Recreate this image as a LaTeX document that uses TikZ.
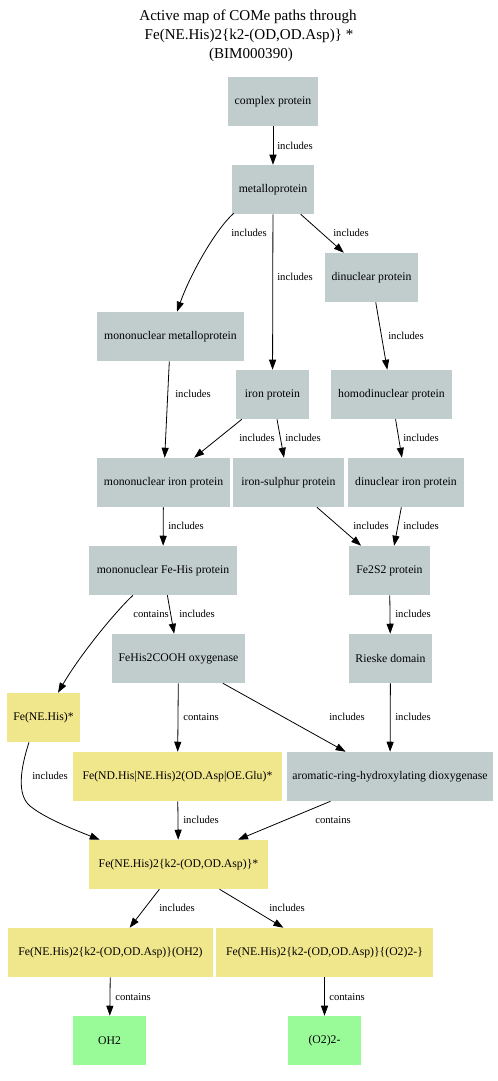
\documentclass[tikz,border=0pt]{standalone}
\usepackage{fontspec}
\setmainfont{Liberation Serif}
\usetikzlibrary{arrows.meta,calc}

\definecolor{protgray}{HTML}{C1CDCD}
\definecolor{sitekhaki}{HTML}{F0E68C}
\definecolor{ligandgreen}{HTML}{98FB98}

\tikzset{
  box/.style={rectangle, draw=none, inner sep=0pt, minimum height=36.75pt,
              font=\fontsize{8.8}{10}\selectfont, text=black},
  bw/.style={minimum width=#1*0.75pt},
  pbox/.style={box, fill=protgray},
  mbox/.style={box, fill=sitekhaki},
  lbox/.style={box, fill=ligandgreen},
  conn/.style={draw=black, line width=0.6pt, -{Triangle[length=7.5pt,width=5.3pt]}},
  lbl/.style={font=\fontsize{8}{9}\selectfont, inner sep=0pt, anchor=west},
  ttl/.style={font=\fontsize{11.3}{13}\selectfont, inner sep=0pt},
}

\begin{document}
\begin{tikzpicture}[x=0.75pt, y=-0.75pt]
\useasboundingbox (0,0) rectangle (497,1081);

% title
\node[ttl] (t1) at (248,17) {Active map of COMe paths through};
\node[ttl] (t2) at (249,36) {Fe(NE.His)2\{k2-(OD,OD.Asp)\} *};
\node[ttl] (t3) at (251,55) {(BIM000390)};

% protein classes
\node[pbox, bw=90]  (cp)  at (273,101.5)   {complex protein};
\node[pbox, bw=82]  (mp)  at (273,189.5)   {metalloprotein};
\node[pbox, bw=93]  (dp)  at (371.5,277.5) {dinuclear protein};
\node[pbox, bw=147] (mm)  at (170.5,336.5) {mononuclear metalloprotein};
\node[pbox, bw=73]  (ip)  at (272.5,394.5) {iron protein};
\node[pbox, bw=121] (hp)  at (391.5,394.5) {homodinuclear protein};
\node[pbox, bw=133] (mi)  at (163.5,482.5) {mononuclear iron protein};
\node[pbox, bw=111] (is)  at (288.5,482.5) {iron-sulphur protein};
\node[pbox, bw=116] (di)  at (406,482.5)   {dinuclear iron protein};
\node[pbox, bw=148] (mf)  at (163,570.5)   {mononuclear Fe-His protein};
\node[pbox, bw=81]  (fs)  at (389.5,570.5) {Fe2S2 protein};
\node[pbox, bw=133] (fo)  at (178.5,658.5) {FeHis2COOH oxygenase};
\node[pbox, bw=83]  (rd)  at (390.5,658.5) {Rieske domain};
\node[pbox, bw=206] (ar)  at (390,776.5)   {aromatic-ring-hydroxylating dioxygenase};

% metal sites
\node[mbox, bw=73]  (fne) at (43.5,717.5)  {Fe(NE.His)*};
\node[mbox, bw=209] (fnd) at (177.5,776.5) {Fe(ND.His|NE.His)2(OD.Asp|OE.Glu)*};
\node[mbox, bw=179] (k2)  at (178.5,864.5) {Fe(NE.His)2\{k2-(OD,OD.Asp)\}*};
\node[mbox, bw=205] (oc)  at (110.5,952.5) {Fe(NE.His)2\{k2-(OD,OD.Asp)\}(OH2)};
\node[mbox, bw=217] (pc)  at (324.5,952.5) {Fe(NE.His)2\{k2-(OD,OD.Asp)\}\{(O2)2-\}};

% ligands
\node[lbox, bw=73]  (oh)  at (109.5,1040.5) {OH2};
\node[lbox, bw=73]  (po)  at (324.5,1040.5) {(O2)2-};

% connectors
\draw[conn] (cp) -- (mp);
\draw[conn] ($(mp.south west)+(2,-1)$) .. controls (215,230) and (190,275) .. ($(mm.north)+(6.5,0)$);
\draw[conn] (mp) -- (ip);
\draw[conn] (mp) -- (dp);
\draw[conn] (dp) -- (hp);
\draw[conn] (mm) -- (mi);
\draw[conn] (ip) -- (mi);
\draw[conn] (ip) -- (is);
\draw[conn] (hp) -- (di);
\draw[conn] (mi) -- (mf);
\draw[conn] (is) -- (fs);
\draw[conn] (di) -- (fs);
\draw[conn] ($(mf.south)+(-30,0)$) .. controls (115,612) and (80,655) .. ($(fne.north)+(14.5,0)$);
\draw[conn] (mf) -- (fo);
\draw[conn] (fs) -- (rd);
\draw[conn] (fo) -- (fnd);
\draw[conn] (fo) -- (ar);
\draw[conn] (rd) -- (ar);
\draw[conn] ($(fne.south)+(-14.5,0)$) .. controls (20,770) and (17,795) .. (30,806)
            .. controls (45,818) and (70,828) .. ($(k2.north west)+(11,0)$);
\draw[conn] (fnd) -- (k2);
\draw[conn] (ar) -- (k2);
\draw[conn] (k2) -- (oc);
\draw[conn] (k2) -- (pc);
\draw[conn] (oc) -- (oh);
\draw[conn] (pc) -- (po);

% connector labels
\node[lbl] (l1)  at (277,146) {includes};
\node[lbl] (l2)  at (231,233) {includes};
\node[lbl] (l3)  at (277,277) {includes};
\node[lbl] (l4)  at (333,233) {includes};
\node[lbl] (l5)  at (388,336) {includes};
\node[lbl] (l6)  at (175,394) {includes};
\node[lbl] (l7)  at (239,438) {includes};
\node[lbl] (l8)  at (285,438) {includes};
\node[lbl] (l9)  at (403,438) {includes};
\node[lbl] (l10) at (168,526) {includes};
\node[lbl] (l11) at (353,526) {includes};
\node[lbl] (l12) at (403,526) {includes};
\node[lbl] (l13) at (133,614) {contains};
\node[lbl] (l14) at (179,614) {includes};
\node[lbl] (l15) at (395,614) {includes};
\node[lbl] (l16) at (183,717) {contains};
\node[lbl] (l17) at (329,717) {includes};
\node[lbl] (l18) at (395,717) {includes};
\node[lbl] (l19) at (32,776)  {includes};
\node[lbl] (l20) at (183,820) {includes};
\node[lbl] (l21) at (315,820) {contains};
\node[lbl] (l22) at (159,908) {includes};
\node[lbl] (l23) at (269,908) {includes};
\node[lbl] (l24) at (115,997) {contains};
\node[lbl] (l25) at (329,997) {contains};
\end{tikzpicture}
\end{document}
